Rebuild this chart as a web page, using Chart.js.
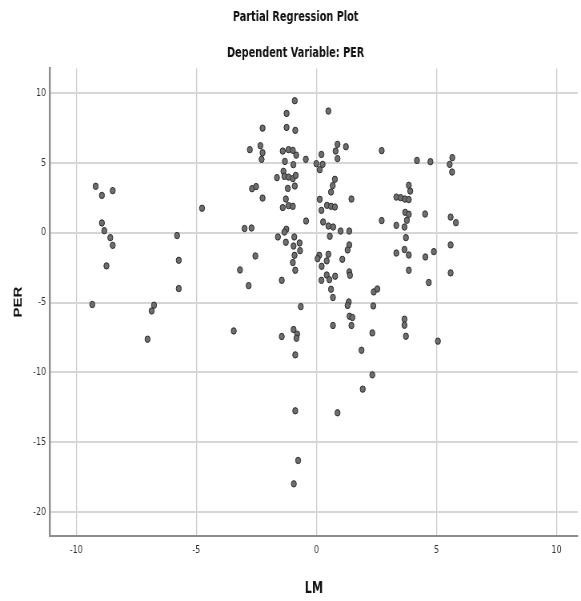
<!DOCTYPE html>
<html><head><meta charset="utf-8">
<script src="https://cdn.jsdelivr.net/npm/chart.js@4.4.1/dist/chart.umd.min.js"></script>
<style>
html,body{margin:0;padding:0;background:#fff;overflow:hidden;}
#wrap{width:726px;height:601px;transform:scaleX(0.80028);transform-origin:0 0;}
</style></head><body>
<div id="wrap"><canvas id="c" width="726" height="601"></canvas></div>
<script>
const chartTitle = 'Partial Regression Plot';
const chartSubtitle = 'Dependent Variable: PER';
const xLabel = 'LM';
const yLabel = 'PER';
const xTicks = [-10, -5, 0, 5, 10];
const yTicks = [10, 5, 0, -5, -10, -15, -20];

const lm = [
  -9.19, -8.93, -8.48, -8.93, -8.83, -8.58, -8.48, -8.74, -5.80, -5.73, -4.76, -5.73, -9.33, -6.76, -6.86, -7.03,
  -0.90, 0.50, -1.24, -2.24, -1.24, -0.88, -2.77, -2.33, -2.24, -2.28, -1.40, -1.16, -0.98, -0.84, -1.31, -0.96,
  -0.44, 0.00, 0.21, 0.26, 0.14, 0.80, -1.37, -1.64, -1.33, -1.16, -0.98, -0.86, -0.90, -1.19, -2.68, -2.51,
  -2.24, 0.77, 0.68, 0.61, -1.27, -1.40, -1.16, -0.98, 0.14, 0.21, 0.44, 0.61, 0.77, -0.43, 0.28, 0.50,
  0.70, 0.56, -2.99, -2.70, -1.25, -1.33, -1.60, -1.27, -0.92, -0.70, -0.95, -0.68, -2.54, -0.91, 0.12, 0.50,
  0.05, 0.43, 0.22, -0.98, -0.88, -3.18, -2.82, -1.44, 0.21, 0.43, 0.54, 0.78, 0.61, 0.69, -0.65, -3.44,
  -1.44, -0.95, -0.80, -0.83, -0.88, 0.69, -0.88, 0.88, -0.76, -0.94,
  0.88, 0.88, 1.23, 2.72, 4.19, 4.75, 5.66, 5.55, 5.65, 1.46, 3.85, 3.91, 3.33, 3.51, 3.69, 3.85,
  3.70, 3.85, 3.77, 4.53, 5.59, 5.81, 2.72, 3.33, 3.67, 1.01, 1.37, 3.73, 1.37, 1.30, 3.33, 3.67,
  3.85, 4.54, 4.89, 5.59, 1.08, 3.85, 4.68, 5.59, 1.37, 1.40, 2.39, 2.54, 1.35, 1.30, 2.37, 1.38,
  1.50, 1.46, 2.33, 3.67, 3.67, 3.73, 5.06, 1.88, 2.33, 1.93
];
const per = [
  3.31, 2.66, 3.00, 0.69, 0.14, -0.36, -0.91, -2.38, -0.21, -1.98, 1.74, -4.00, -5.14, -5.19, -5.60, -7.62,
  9.43, 8.69, 8.52, 7.47, 7.52, 7.31, 5.93, 6.21, 5.71, 5.24, 5.83, 5.93, 5.88, 5.54, 5.09, 4.86,
  5.24, 4.93, 5.59, 4.88, 4.50, 5.83, 4.38, 3.93, 4.02, 3.97, 3.86, 4.09, 3.33, 3.16, 3.14, 3.29,
  2.47, 3.81, 3.36, 2.90, 2.40, 1.79, 1.93, 1.88, 2.38, 1.59, 1.95, 1.88, 1.83, 0.83, 0.76, 0.47,
  0.40, -0.26, 0.29, 0.33, 0.24, 0.04, -0.31, -0.69, -0.31, -0.74, -0.96, -1.29, -1.67, -1.62, -1.62, -1.55,
  -1.86, -2.02, -2.41, -2.14, -2.69, -2.67, -3.79, -3.41, -3.41, -3.03, -3.36, -3.12, -4.05, -4.64, -5.29, -7.03,
  -7.43, -6.93, -7.26, -7.55, -8.74, -6.64, -12.74, -12.88, -16.29, -17.96,
  6.31, 5.29, 6.14, 5.86, 5.16, 5.07, 5.36, 4.88, 4.33, 2.40, 3.38, 2.97, 2.54, 2.50, 2.40, 2.36,
  1.45, 1.31, 0.88, 1.33, 1.11, 0.71, 0.86, 0.52, 0.40, 0.11, 0.11, -0.36, -0.88, -1.24, -1.46, -1.21,
  -1.60, -1.74, -1.36, -0.88, -1.91, -2.69, -3.57, -2.88, -2.81, -3.05, -4.24, -4.03, -4.96, -5.21, -5.24, -5.98,
  -6.07, -6.64, -7.17, -6.19, -6.62, -7.41, -7.76, -8.41, -10.17, -11.19
];

const NARROW = "'Liberation Sans Narrow', 'Arial Narrow', 'DejaVu Sans Condensed', sans-serif";
const points = lm.map((x, i) => ({ x: x, y: per[i] }));

new Chart(document.getElementById('c'), {
  type: 'scatter',
  data: {
    datasets: [{
      label: yLabel,
      data: points,
      pointRadius: 3.2,
      pointHoverRadius: 3.2,
      pointBorderWidth: 1,
      backgroundColor: 'rgb(110,110,110)',
      borderColor: 'rgb(45,45,45)'
    }]
  },
  options: {
    responsive: false,
    animation: false,
    events: [],
    layout: { padding: { left: 13, right: 0, top: 0, bottom: 0 } },
    plugins: {
      legend: { display: false },
      tooltip: { enabled: false },
      title: {
        display: true, text: chartTitle, color: '#111',
        font: { family: NARROW, size: 13.5, weight: 'bold', lineHeight: 1.2 },
        padding: { top: 9, bottom: 0 }
      },
      subtitle: {
        display: true, text: chartSubtitle, color: '#111',
        font: { family: NARROW, size: 13.5, weight: 'bold', lineHeight: 1.2 },
        padding: { top: 20, bottom: 7 }
      }
    },
    scales: {
      x: {
        type: 'linear', position: 'bottom',
        min: -11.09, max: 10.88,
        afterBuildTicks: (s) => { s.ticks = xTicks.map(v => ({ value: v })); },
        afterFit: (s) => { s.height = 65; },
        ticks: { color: '#333', padding: 8, font: { family: NARROW, size: 11 } },
        grid: { color: '#cccccc', lineWidth: 1.25, drawTicks: false },
        border: { display: true, color: '#8c8c8c', width: 2 },
        title: {
          display: true, text: xLabel, color: '#111',
          font: { family: NARROW, size: 15.5, weight: 'bold', lineHeight: 1.2 },
          padding: { top: 0, bottom: 3 }
        }
      },
      y: {
        type: 'linear', position: 'left',
        min: -21.69, max: 11.74,
        afterBuildTicks: (s) => { s.ticks = yTicks.map(v => ({ value: v })); },
        afterFit: (s) => { s.width = 49.5; },
        ticks: { color: '#333', padding: 5, font: { family: NARROW, size: 11 } },
        grid: { color: '#d6d6d6', lineWidth: 2, drawTicks: false },
        border: { display: true, color: '#8c8c8c', width: 2.4 },
        title: {
          display: true, text: yLabel, color: '#111',
          font: { family: "'Liberation Sans', Arial, sans-serif", size: 15, weight: 'bold', lineHeight: 1.2 },
          padding: { top: 0.5, bottom: 0 }
        }
      }
    }
  }
});
</script>
</body></html>
